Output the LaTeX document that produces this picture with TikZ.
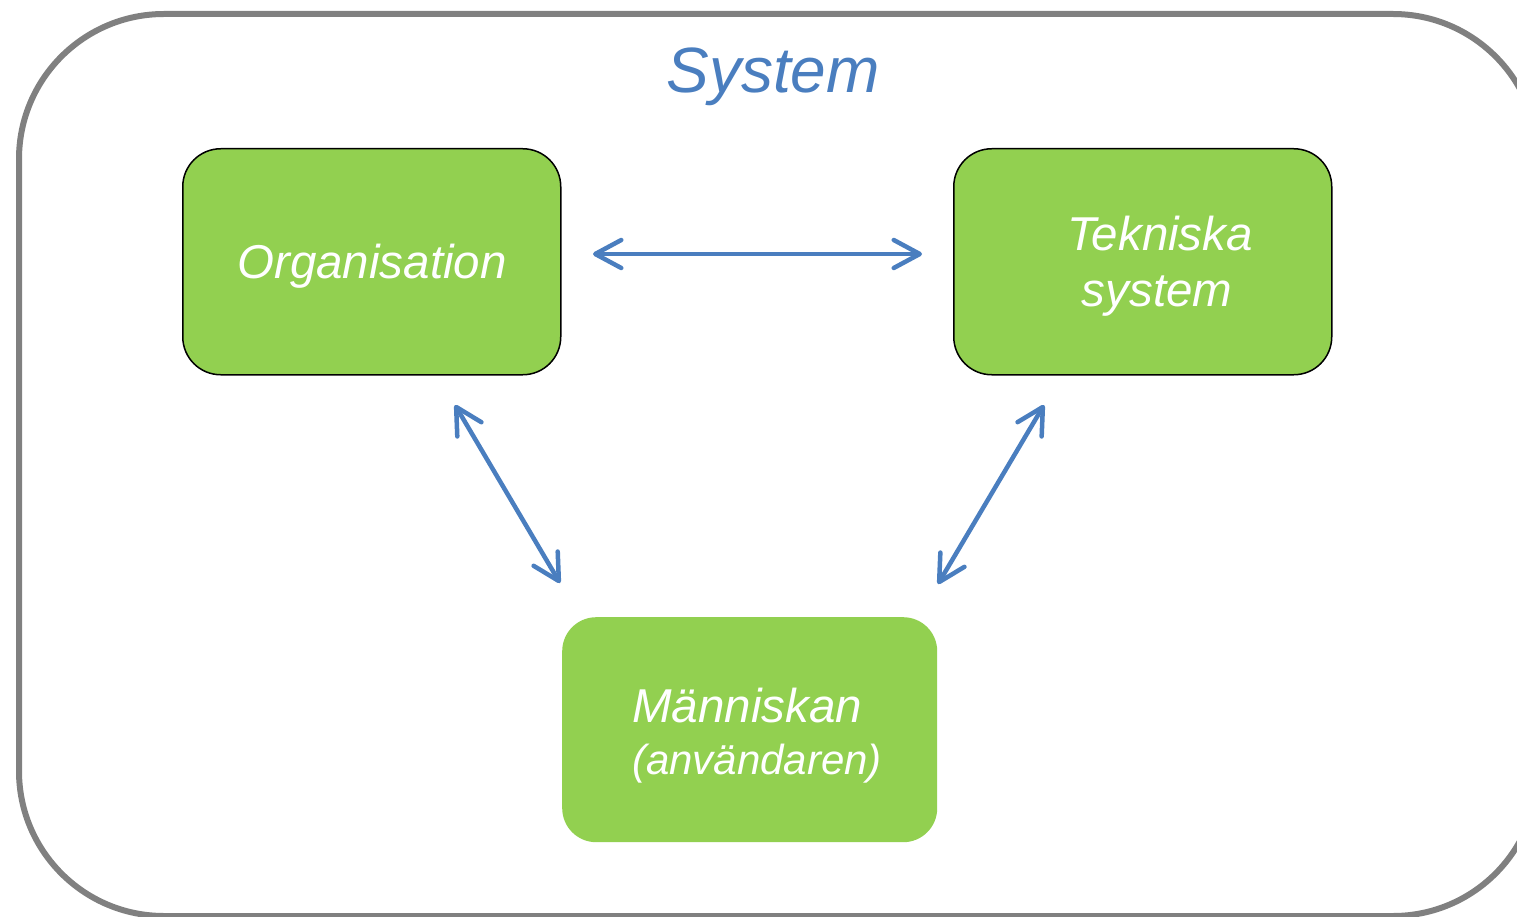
\documentclass[tikz,border=0pt]{standalone}
\usepackage{fontspec}
\setmainfont{Liberation Sans}
\usetikzlibrary{arrows.meta}
\definecolor{boxgreen}{HTML}{92D050}
\definecolor{arrblue}{HTML}{4A7EBF}
\definecolor{framegray}{HTML}{808080}
\begin{document}
\begin{tikzpicture}[x=1pt,y=-1pt,
  frame/.style={draw=framegray, line width=6pt, rounded corners=145pt, inner sep=0pt, anchor=north west},
  box/.style={draw=black, line width=1.5pt, fill=boxgreen, rounded corners=38pt, inner sep=0pt, anchor=north west},
  plainbox/.style={fill=boxgreen, rounded corners=34pt, inner sep=0pt, anchor=north west},
  txt/.style={text=white, font=\itshape\fontsize{47.5}{55}\selectfont, inner sep=0pt, anchor=base},
  smalltxt/.style={text=white, font=\itshape\fontsize{42}{50}\selectfont, inner sep=0pt, anchor=base west},
  title/.style={text=arrblue, font=\itshape\fontsize{64}{74}\selectfont, inner sep=0pt, anchor=base},
  conn/.style={draw=arrblue, line width=4.5pt, line cap=round,
    {Straight Barb[length=26pt,width=28pt,round]}-{Straight Barb[length=26pt,width=28pt,round]}}
]
\useasboundingbox (0,0) rectangle (1517,917);
\clip (0,0) rectangle (1517,917);
% outer system frame
\node[frame, minimum width=1519pt, minimum height=902pt] (sys) at (16,11) {};
\node[title] (systitle) at (773,93) {System};
% boxes
\node[box, minimum width=378pt, minimum height=226pt] (org) at (182,148) {};
\node[box, minimum width=378pt, minimum height=226pt] (tek) at (953,148) {};
\node[plainbox, minimum width=375pt, minimum height=225pt] (man) at (562,617) {};
% texts
\node[txt] (orgtxt) at (372,278) {Organisation};
\node[txt] (tektxt1) at (1160,251) {Tekniska};
\node[txt] (tektxt2) at (1157,306) {system};
\node[txt, anchor=base west] (mantxt1) at (632,722) {Människan};
\node[smalltxt] (mantxt2) at (632,774) {(användaren)};
% connector end points
\coordinate (h1) at (593,254);
\coordinate (h2) at (922,254);
\coordinate (l1) at (455,405);
\coordinate (l2) at (560,583);
\coordinate (r1) at (1044,405);
\coordinate (r2) at (938,584);
\draw[conn] (h1) -- (h2);
\draw[conn] (l1) -- (l2);
\draw[conn] (r1) -- (r2);
\end{tikzpicture}
\end{document}
